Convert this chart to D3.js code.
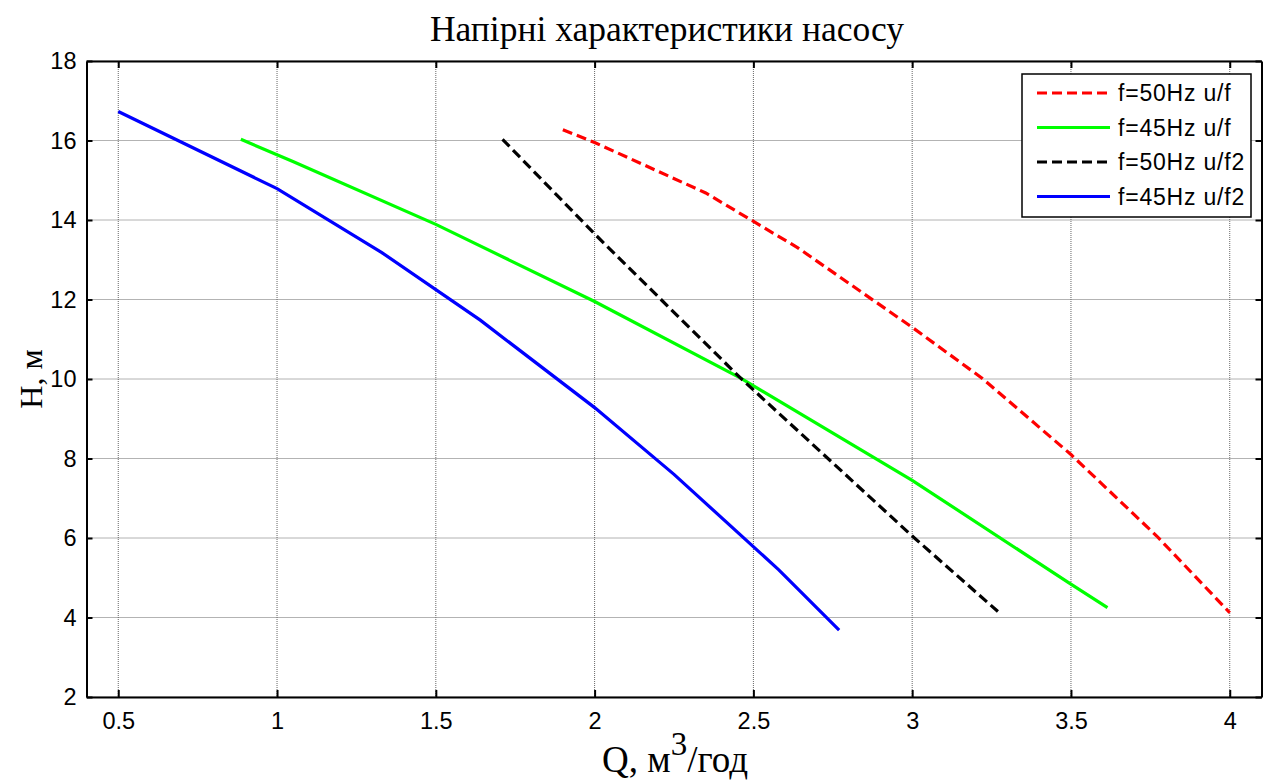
<!DOCTYPE html>
<html>
<head>
<meta charset="utf-8">
<script src="https://cdn.jsdelivr.net/npm/d3@7"></script>
<style>
  body { margin: 0; background: #fff; }
  svg { display: block; }
</style>
</head>
<body>
<svg width="1266" height="781"></svg>
<script>
// curves: [Q, H]
const red50uf = [[1.9,16.27],[2.0,15.95],[2.35,14.68],[2.64,13.3],[3.0,11.3],[3.22,10.02],[3.5,8.1],[3.77,6.05],[4.0,4.12]];
const green45uf = [[0.886,16.03],[1.05,15.47],[1.5,13.89],[2.0,11.95],[2.46,10.02],[3.0,7.45],[3.49,4.89],[3.615,4.25]];
const black50uf2 = [[1.71,16.03],[2.0,13.65],[2.46,10.02],[3.0,6.05],[3.27,4.15]];
const blue45uf2 = [[0.5,16.73],[1.0,14.79],[1.33,13.18],[1.64,11.48],[2.0,9.28],[2.25,7.6],[2.58,5.2],[2.77,3.68]];

const xTicks = [0.5, 1, 1.5, 2, 2.5, 3, 3.5, 4];
const yTicks = [2, 4, 6, 8, 10, 12, 14, 16, 18];

const series = [
  {name: "f=50Hz u/f", data: red50uf, color: "#ff0000", dash: "10,5"},
  {name: "f=45Hz u/f", data: green45uf, color: "#00ff00", dash: null},
  {name: "f=50Hz u/f2", data: black50uf2, color: "#000000", dash: "10,5"},
  {name: "f=45Hz u/f2", data: blue45uf2, color: "#0000ff", dash: null}
];

let margin = {top: 61, right: 4.5, bottom: 84, left: 86.5},
    width = 1266, height = 781;

const svg = d3.select("svg");

x = d3.scaleLinear()
    .domain([0.4, 4.1])
    .range([margin.left, width - margin.right]);
y = d3.scaleLinear()
    .domain([2, 18])
    .range([height - margin.bottom, margin.top]);

// grid
svg.append("g")
    .selectAll("line")
    .data(xTicks)
    .join("line")
    .attr("x1", d => x(d)).attr("x2", d => x(d))
    .attr("y1", y(18)).attr("y2", y(2))
    .attr("stroke", "#666").attr("stroke-width", 1).attr("stroke-dasharray", "1,1");
svg.append("g")
    .selectAll("line")
    .data(yTicks)
    .join("line")
    .attr("x1", x(0.4)).attr("x2", x(4.1))
    .attr("y1", d => y(d)).attr("y2", d => y(d))
    .attr("stroke", "#666").attr("stroke-width", 1).attr("stroke-dasharray", "1,1");

// axes, ticks inward
const tickFont = g => g.selectAll("text")
    .attr("font-family", "Liberation Sans, Arial, sans-serif")
    .attr("font-size", 23.5)
    .attr("fill", "#000");

xAxis = g => g
    .attr("transform", "translate(0," + y(2) + ")")
    .call(d3.axisBottom(x).tickValues(xTicks).tickFormat(d3.format("")).tickSizeInner(-7).tickSizeOuter(0).tickPadding(15))
    .call(tickFont);
yAxis = g => g
    .attr("transform", "translate(" + x(0.4) + ",0)")
    .call(d3.axisLeft(y).tickValues(yTicks).tickSizeInner(-6).tickSizeOuter(0).tickPadding(10))
    .call(tickFont);
xAxisTop = g => g
    .attr("transform", "translate(0," + y(18) + ")")
    .call(d3.axisTop(x).tickValues(xTicks).tickFormat("").tickSizeInner(-7).tickSizeOuter(0));
yAxisRight = g => g
    .attr("transform", "translate(" + x(4.1) + ",0)")
    .call(d3.axisRight(y).tickValues(yTicks).tickFormat("").tickSizeInner(-6).tickSizeOuter(0));

[xAxis, yAxis, xAxisTop, yAxisRight].forEach(a => {
  svg.append("g").call(a)
     .call(g => g.selectAll(".domain, line").attr("stroke", "#000").attr("stroke-width", 2));
});

// curves
line = d3.line()
    .x(d => x(d[0]))
    .y(d => y(d[1]));

series.forEach(s => {
  svg.append("path")
      .datum(s.data)
      .attr("fill", "none")
      .attr("stroke", s.color)
      .attr("stroke-width", 3.2)
      .attr("stroke-dasharray", s.dash)
      .attr("d", line);
});

// legend
const lg = svg.append("g").attr("transform", "translate(1022,74)");
lg.append("rect")
    .attr("width", 229).attr("height", 143)
    .attr("fill", "#fff").attr("stroke", "#000").attr("stroke-width", 1.5);
series.forEach((s, i) => {
  const yy = 19 + i * 34.5;
  lg.append("line")
      .attr("x1", 15).attr("x2", 88)
      .attr("y1", yy).attr("y2", yy)
      .attr("stroke", s.color).attr("stroke-width", 3)
      .attr("stroke-dasharray", s.dash);
  lg.append("text")
      .attr("x", 96).attr("y", yy + 8)
      .attr("font-family", "Liberation Sans, Arial, sans-serif")
      .attr("font-size", 23)
      .attr("letter-spacing", 0.8)
      .text(s.name);
});

// titles
svg.append("text")
    .attr("x", 667).attr("y", 41)
    .attr("text-anchor", "middle")
    .attr("font-family", "Liberation Serif, Times New Roman, serif")
    .attr("font-size", 35.5)
    .text("Напірні характеристики насосу");

svg.append("text")
    .attr("transform", "translate(42," + y(10) + ") rotate(-90)")
    .attr("text-anchor", "middle")
    .attr("font-family", "Liberation Serif, Times New Roman, serif")
    .attr("font-size", 32)
    .text("H, м");

const xl = svg.append("text")
    .attr("x", 675).attr("y", 772)
    .attr("text-anchor", "middle")
    .attr("font-family", "Liberation Serif, Times New Roman, serif")
    .attr("font-size", 37);
xl.append("tspan").text("Q, м");
xl.append("tspan").attr("dy", -17).attr("font-size", 33).text("3");
xl.append("tspan").attr("dy", 17).text("/год");
</script>
</body>
</html>
